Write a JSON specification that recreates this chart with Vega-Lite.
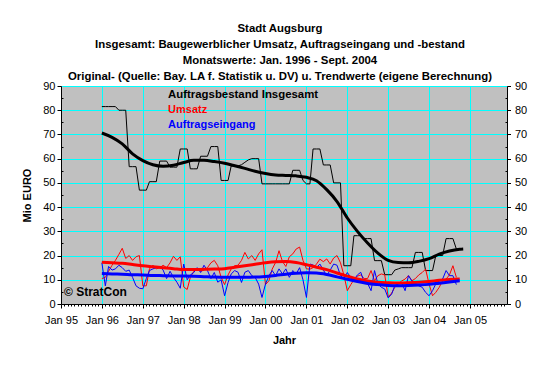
{
  "$schema": "https://vega.github.io/schema/vega-lite/v6.json",
  "width": 446,
  "height": 218,
  "autosize": {"type": "none"},
  "padding": {"left": 61, "top": 86, "right": 53, "bottom": 70},
  "background": "white",
  "title": {
    "text": ["Stadt Augsburg", "Insgesamt: Baugewerblicher Umsatz, Auftragseingang und -bestand", "Monatswerte: Jan. 1996 - Sept. 2004", "Original- (Quelle: Bay. LA f. Statistik u. DV) u. Trendwerte (eigene Berechnung)"],
    "font": "Liberation Sans", "fontSize": 11.4, "fontWeight": "bold", "color": "black",
    "lineHeight": 16, "anchor": "middle", "frame": "group", "dx": -4, "dy": 3.5, "offset": 1
  },
  "datasets": {
    "monthly": [
      {"d":"1996-01-01","bestand":81.5,"umsatz":10.5,"eingang":17},
      {"d":"1996-02-01","bestand":81.5,"umsatz":11,"eingang":7.5},
      {"d":"1996-03-01","bestand":81.5,"umsatz":13.5,"eingang":15.5},
      {"d":"1996-04-01","bestand":81.5,"umsatz":16,"eingang":14},
      {"d":"1996-05-01","bestand":81.5,"umsatz":18,"eingang":14.5},
      {"d":"1996-06-01","bestand":80,"umsatz":20.5,"eingang":16},
      {"d":"1996-07-01","bestand":80,"umsatz":23,"eingang":15},
      {"d":"1996-08-01","bestand":80,"umsatz":18.8,"eingang":13.5},
      {"d":"1996-09-01","bestand":56.7,"umsatz":20,"eingang":14},
      {"d":"1996-10-01","bestand":56.7,"umsatz":18,"eingang":11},
      {"d":"1996-11-01","bestand":56.7,"umsatz":19.5,"eingang":7.5},
      {"d":"1996-12-01","bestand":47,"umsatz":20,"eingang":6.5},
      {"d":"1997-01-01","bestand":47,"umsatz":7.5,"eingang":6.3},
      {"d":"1997-02-01","bestand":47,"umsatz":7.5,"eingang":10.5},
      {"d":"1997-03-01","bestand":50.5,"umsatz":14.5,"eingang":13.8},
      {"d":"1997-04-01","bestand":50.5,"umsatz":16,"eingang":14.5},
      {"d":"1997-05-01","bestand":50.5,"umsatz":14.5,"eingang":15},
      {"d":"1997-06-01","bestand":59,"umsatz":15,"eingang":15.5},
      {"d":"1997-07-01","bestand":59,"umsatz":16,"eingang":14},
      {"d":"1997-08-01","bestand":59,"umsatz":15,"eingang":10.5},
      {"d":"1997-09-01","bestand":56.5,"umsatz":17,"eingang":13.5},
      {"d":"1997-10-01","bestand":56.5,"umsatz":19.7,"eingang":11},
      {"d":"1997-11-01","bestand":56.5,"umsatz":18,"eingang":9},
      {"d":"1997-12-01","bestand":64,"umsatz":19.5,"eingang":6.5},
      {"d":"1998-01-01","bestand":64,"umsatz":7,"eingang":16.5},
      {"d":"1998-02-01","bestand":64,"umsatz":6,"eingang":10},
      {"d":"1998-03-01","bestand":55.8,"umsatz":11,"eingang":12},
      {"d":"1998-04-01","bestand":55.8,"umsatz":13.5,"eingang":13},
      {"d":"1998-05-01","bestand":55.8,"umsatz":14.5,"eingang":15},
      {"d":"1998-06-01","bestand":61,"umsatz":13.5,"eingang":13},
      {"d":"1998-07-01","bestand":61,"umsatz":14,"eingang":16},
      {"d":"1998-08-01","bestand":61,"umsatz":15,"eingang":13.8},
      {"d":"1998-09-01","bestand":65,"umsatz":17,"eingang":10.5},
      {"d":"1998-10-01","bestand":65,"umsatz":18,"eingang":13},
      {"d":"1998-11-01","bestand":65,"umsatz":15.8,"eingang":9},
      {"d":"1998-12-01","bestand":51,"umsatz":11,"eingang":10},
      {"d":"1999-01-01","bestand":51,"umsatz":8,"eingang":3.4},
      {"d":"1999-02-01","bestand":51,"umsatz":12,"eingang":8.9},
      {"d":"1999-03-01","bestand":57,"umsatz":14.5,"eingang":12.4},
      {"d":"1999-04-01","bestand":57,"umsatz":15.8,"eingang":13.8},
      {"d":"1999-05-01","bestand":57,"umsatz":16,"eingang":13.1},
      {"d":"1999-06-01","bestand":57.5,"umsatz":18,"eingang":8.9},
      {"d":"1999-07-01","bestand":58.5,"umsatz":21.3,"eingang":13.1},
      {"d":"1999-08-01","bestand":59.5,"umsatz":18.6,"eingang":13.8},
      {"d":"1999-09-01","bestand":60,"umsatz":20,"eingang":11.7},
      {"d":"1999-10-01","bestand":60,"umsatz":18,"eingang":11},
      {"d":"1999-11-01","bestand":60,"umsatz":20.7,"eingang":8.2},
      {"d":"1999-12-01","bestand":49.6,"umsatz":22.4,"eingang":2.7},
      {"d":"2000-01-01","bestand":49.6,"umsatz":8,"eingang":8.2},
      {"d":"2000-02-01","bestand":49.6,"umsatz":9.6,"eingang":11.7},
      {"d":"2000-03-01","bestand":49.6,"umsatz":14.4,"eingang":13.8},
      {"d":"2000-04-01","bestand":49.6,"umsatz":17.2,"eingang":11.7},
      {"d":"2000-05-01","bestand":49.6,"umsatz":22,"eingang":14.5},
      {"d":"2000-06-01","bestand":49.6,"umsatz":17.5,"eingang":12.4},
      {"d":"2000-07-01","bestand":49.6,"umsatz":15.5,"eingang":14.5},
      {"d":"2000-08-01","bestand":49.6,"umsatz":19.5,"eingang":11},
      {"d":"2000-09-01","bestand":55.2,"umsatz":20.7,"eingang":13.8},
      {"d":"2000-10-01","bestand":55.2,"umsatz":22.7,"eingang":12.4},
      {"d":"2000-11-01","bestand":55.2,"umsatz":23.5,"eingang":15},
      {"d":"2000-12-01","bestand":51,"umsatz":18,"eingang":10},
      {"d":"2001-01-01","bestand":49.6,"umsatz":14.5,"eingang":2.7},
      {"d":"2001-02-01","bestand":49.6,"umsatz":14.4,"eingang":16.5},
      {"d":"2001-03-01","bestand":64,"umsatz":15,"eingang":16.1},
      {"d":"2001-04-01","bestand":64,"umsatz":16.5,"eingang":15},
      {"d":"2001-05-01","bestand":64,"umsatz":18.5,"eingang":16.5},
      {"d":"2001-06-01","bestand":57.4,"umsatz":17.5,"eingang":14},
      {"d":"2001-07-01","bestand":57.4,"umsatz":18.6,"eingang":11.7},
      {"d":"2001-08-01","bestand":57.4,"umsatz":16.5,"eingang":14},
      {"d":"2001-09-01","bestand":50,"umsatz":19,"eingang":16.5},
      {"d":"2001-10-01","bestand":50,"umsatz":20,"eingang":16},
      {"d":"2001-11-01","bestand":50,"umsatz":17,"eingang":11.7},
      {"d":"2001-12-01","bestand":15.8,"umsatz":12,"eingang":10.5},
      {"d":"2002-01-01","bestand":15.8,"umsatz":5.5,"eingang":13},
      {"d":"2002-02-01","bestand":15.8,"umsatz":8,"eingang":11},
      {"d":"2002-03-01","bestand":28.2,"umsatz":10,"eingang":10},
      {"d":"2002-04-01","bestand":28.2,"umsatz":11.5,"eingang":12},
      {"d":"2002-05-01","bestand":28.2,"umsatz":12,"eingang":13.1},
      {"d":"2002-06-01","bestand":27,"umsatz":10.5,"eingang":9},
      {"d":"2002-07-01","bestand":27,"umsatz":10.5,"eingang":8.5},
      {"d":"2002-08-01","bestand":27,"umsatz":13.8,"eingang":5.5},
      {"d":"2002-09-01","bestand":17.9,"umsatz":9.6,"eingang":13.8},
      {"d":"2002-10-01","bestand":17.9,"umsatz":11.7,"eingang":8.3},
      {"d":"2002-11-01","bestand":17.9,"umsatz":12.4,"eingang":6.9},
      {"d":"2002-12-01","bestand":12.1,"umsatz":12,"eingang":6.2},
      {"d":"2003-01-01","bestand":12.1,"umsatz":3,"eingang":2.5},
      {"d":"2003-02-01","bestand":12.1,"umsatz":4.5,"eingang":4.1},
      {"d":"2003-03-01","bestand":14,"umsatz":6.9,"eingang":7.6},
      {"d":"2003-04-01","bestand":14.5,"umsatz":8.3,"eingang":8.3},
      {"d":"2003-05-01","bestand":15,"umsatz":9.5,"eingang":8.8},
      {"d":"2003-06-01","bestand":15,"umsatz":10.3,"eingang":5.5},
      {"d":"2003-07-01","bestand":15,"umsatz":11.7,"eingang":11.7},
      {"d":"2003-08-01","bestand":15,"umsatz":9.6,"eingang":9.5},
      {"d":"2003-09-01","bestand":21.3,"umsatz":10.5,"eingang":8.5},
      {"d":"2003-10-01","bestand":21.3,"umsatz":12,"eingang":7.5},
      {"d":"2003-11-01","bestand":21.3,"umsatz":13,"eingang":6.9},
      {"d":"2003-12-01","bestand":13.8,"umsatz":14.4,"eingang":4.8},
      {"d":"2004-01-01","bestand":13.8,"umsatz":8.3,"eingang":3.4},
      {"d":"2004-02-01","bestand":13.8,"umsatz":3.4,"eingang":5.5},
      {"d":"2004-03-01","bestand":20,"umsatz":4.8,"eingang":8.3},
      {"d":"2004-04-01","bestand":20,"umsatz":6.9,"eingang":9.5},
      {"d":"2004-05-01","bestand":20,"umsatz":9.6,"eingang":10.3},
      {"d":"2004-06-01","bestand":27,"umsatz":10.3,"eingang":13.8},
      {"d":"2004-07-01","bestand":27,"umsatz":12,"eingang":11.7},
      {"d":"2004-08-01","bestand":27,"umsatz":15.8,"eingang":11.7},
      {"d":"2004-09-01","bestand":22.7,"umsatz":11,"eingang":8}
    ],
    "trend": [
      {"d":"1996-01-01","Auftragsbestand Insgesamt":70.6,"Umsatz":17.2,"Auftragseingang":12.6},
      {"d":"1996-04-01","Auftragsbestand Insgesamt":68.8,"Umsatz":17,"Auftragseingang":12.4},
      {"d":"1996-07-01","Auftragsbestand Insgesamt":66.1,"Umsatz":16.8,"Auftragseingang":12.3},
      {"d":"1996-10-01","Auftragsbestand Insgesamt":62,"Umsatz":16.3,"Auftragseingang":12.1},
      {"d":"1997-01-01","Auftragsbestand Insgesamt":59.2,"Umsatz":15.8,"Auftragseingang":12},
      {"d":"1997-04-01","Auftragsbestand Insgesamt":57.5,"Umsatz":15.4,"Auftragseingang":11.8},
      {"d":"1997-07-01","Auftragsbestand Insgesamt":56.9,"Umsatz":15,"Auftragseingang":11.7},
      {"d":"1997-10-01","Auftragsbestand Insgesamt":57.3,"Umsatz":14.6,"Auftragseingang":11.6},
      {"d":"1998-01-01","Auftragsbestand Insgesamt":58.4,"Umsatz":14.2,"Auftragseingang":11.6},
      {"d":"1998-04-01","Auftragsbestand Insgesamt":59.3,"Umsatz":14.2,"Auftragseingang":11.5},
      {"d":"1998-07-01","Auftragsbestand Insgesamt":59.3,"Umsatz":14.3,"Auftragseingang":11.3},
      {"d":"1998-10-01","Auftragsbestand Insgesamt":58.8,"Umsatz":14.4,"Auftragseingang":11.1},
      {"d":"1999-01-01","Auftragsbestand Insgesamt":58.1,"Umsatz":14.6,"Auftragseingang":11},
      {"d":"1999-04-01","Auftragsbestand Insgesamt":57.1,"Umsatz":15.2,"Auftragseingang":11},
      {"d":"1999-07-01","Auftragsbestand Insgesamt":56,"Umsatz":15.8,"Auftragseingang":11},
      {"d":"1999-10-01","Auftragsbestand Insgesamt":54.8,"Umsatz":16.4,"Auftragseingang":11.1},
      {"d":"2000-01-01","Auftragsbestand Insgesamt":53.9,"Umsatz":17,"Auftragseingang":11.4},
      {"d":"2000-04-01","Auftragsbestand Insgesamt":53.3,"Umsatz":17.4,"Auftragseingang":11.8},
      {"d":"2000-07-01","Auftragsbestand Insgesamt":53.1,"Umsatz":17.5,"Auftragseingang":12.3},
      {"d":"2000-10-01","Auftragsbestand Insgesamt":52.9,"Umsatz":17.1,"Auftragseingang":12.7},
      {"d":"2001-01-01","Auftragsbestand Insgesamt":52.3,"Umsatz":16.2,"Auftragseingang":12.9},
      {"d":"2001-04-01","Auftragsbestand Insgesamt":50.9,"Umsatz":15.2,"Auftragseingang":12.8},
      {"d":"2001-07-01","Auftragsbestand Insgesamt":47.2,"Umsatz":14.2,"Auftragseingang":12.2},
      {"d":"2001-10-01","Auftragsbestand Insgesamt":42.3,"Umsatz":12.8,"Auftragseingang":11.2},
      {"d":"2002-01-01","Auftragsbestand Insgesamt":35.5,"Umsatz":11.5,"Auftragseingang":10.2},
      {"d":"2002-04-01","Auftragsbestand Insgesamt":30,"Umsatz":10.3,"Auftragseingang":9.3},
      {"d":"2002-07-01","Auftragsbestand Insgesamt":25.2,"Umsatz":9.5,"Auftragseingang":8.5},
      {"d":"2002-10-01","Auftragsbestand Insgesamt":21,"Umsatz":9,"Auftragseingang":8},
      {"d":"2003-01-01","Auftragsbestand Insgesamt":18,"Umsatz":8.8,"Auftragseingang":7.6},
      {"d":"2003-04-01","Auftragsbestand Insgesamt":17.1,"Umsatz":8.7,"Auftragseingang":7.5},
      {"d":"2003-07-01","Auftragsbestand Insgesamt":17,"Umsatz":8.8,"Auftragseingang":7.6},
      {"d":"2003-10-01","Auftragsbestand Insgesamt":17.6,"Umsatz":9,"Auftragseingang":7.8},
      {"d":"2004-01-01","Auftragsbestand Insgesamt":18.7,"Umsatz":9.3,"Auftragseingang":8.1},
      {"d":"2004-04-01","Auftragsbestand Insgesamt":20.6,"Umsatz":9.8,"Auftragseingang":8.6},
      {"d":"2004-07-01","Auftragsbestand Insgesamt":21.9,"Umsatz":10.1,"Auftragseingang":9.1},
      {"d":"2004-10-01","Auftragsbestand Insgesamt":22.6,"Umsatz":10.3,"Auftragseingang":9.6},
      {"d":"2004-11-01","Auftragsbestand Insgesamt":22.7}
    ]
  },
  "layer": [
    {
      "data": {"name": "monthly"},
      "mark": {"type": "line", "color": "#000000", "strokeWidth": 1},
      "encoding": {
        "x": {"field": "d", "type": "temporal",
          "scale": {"type": "utc", "domain": [{"year": 1995, "month": 1, "date": 1, "utc": true}, {"year": 2005, "month": 11, "date": 27, "utc": true}]},
          "axis": {"orient": "bottom", "tickCount": {"interval": "year", "step": 1}, "labelExpr": "utcFormat(datum.value, '%b %y')",
            "tickSize": 4, "labelPadding": 6, "labelFlush": false, "labelOverlap": false, "labelBound": false,
            "grid": true, "gridColor": "#00FFFF", "gridOpacity": 1, "gridWidth": 1,
            "title": "Jahr", "titlePadding": 9}},
        "y": {"field": "bestand", "type": "quantitative",
          "scale": {"domain": [0, 90], "nice": false},
          "axis": {"orient": "left", "values": [0,10,20,30,40,50,60,70,80,90], "tickSize": 4, "labelPadding": 2,
            "grid": true, "gridColor": "#00FFFF", "gridOpacity": 1, "gridWidth": 1,
            "title": "Mio EURO", "titlePadding": 10}}
      }
    },
    {
      "data": {"name": "monthly"},
      "mark": {"type": "line", "color": "#FF0000", "strokeWidth": 1},
      "encoding": {
        "x": {"field": "d", "type": "temporal", "axis": null},
        "y": {"field": "umsatz", "type": "quantitative",
          "axis": {"orient": "left", "values": [5,15,25,35,45,55,65,75,85], "labels": false, "tickSize": -2, "grid": false, "domain": false, "title": null}}
      }
    },
    {
      "data": {"name": "monthly"},
      "mark": {"type": "line", "color": "#0000FF", "strokeWidth": 1},
      "encoding": {
        "x": {"field": "d", "type": "temporal", "axis": null},
        "y": {"field": "eingang", "type": "quantitative", "axis": null}
      }
    },
    {
      "data": {"name": "trend"},
      "transform": [{"fold": ["Auftragsbestand Insgesamt", "Umsatz", "Auftragseingang"], "as": ["series", "value"]}],
      "mark": {"type": "line", "strokeWidth": 3, "interpolate": "monotone"},
      "encoding": {
        "x": {"field": "d", "type": "temporal",
          "axis": {"orient": "bottom", "tickCount": {"interval": "month", "step": 1}, "labels": false, "tickSize": 2, "grid": false, "domain": false, "title": null}},
        "y": {"field": "value", "type": "quantitative",
          "axis": {"orient": "right", "values": [0,10,20,30,40,50,60,70,80,90], "tickSize": 3.5, "labelPadding": 4, "grid": false, "title": null}},
        "color": {"field": "series", "type": "nominal",
          "scale": {"domain": ["Auftragsbestand Insgesamt", "Umsatz", "Auftragseingang"], "range": ["#000000", "#FF0000", "#0000FF"]},
          "legend": null}
      }
    },
    {
      "data": {"values": [{}]},
      "mark": {"type": "text", "text": "© StratCon", "align": "left", "baseline": "middle", "dx": 3, "font": "Liberation Sans", "fontSize": 12, "fontWeight": "bold", "color": "#000000"},
      "encoding": {
        "x": {"datum": {"year": 1995, "month": 1, "date": 1, "utc": true}, "type": "temporal", "axis": null},
        "y": {"datum": 5, "type": "quantitative",
          "axis": {"orient": "right", "values": [5,15,25,35,45,55,65,75,85], "labels": false, "tickSize": -2, "grid": false, "domain": false, "title": null}}
      }
    },
    {
      "data": {"values": [{}]},
      "mark": {"type": "text", "text": "Auftragsbestand Insgesamt", "align": "left", "baseline": "middle", "font": "Liberation Sans", "fontSize": 11.4, "fontWeight": "bold", "color": "#000000"},
      "encoding": {
        "x": {"datum": {"year": 1997, "month": 8, "date": 14, "utc": true}, "type": "temporal", "axis": null},
        "y": {"datum": 86.3, "type": "quantitative", "axis": null}
      }
    },
    {
      "data": {"values": [{}]},
      "mark": {"type": "text", "text": "Umsatz", "align": "left", "baseline": "middle", "font": "Liberation Sans", "fontSize": 11, "fontWeight": "bold", "color": "#FF0000"},
      "encoding": {
        "x": {"datum": {"year": 1997, "month": 8, "date": 14, "utc": true}, "type": "temporal", "axis": null},
        "y": {"datum": 80.1, "type": "quantitative", "axis": null}
      }
    },
    {
      "data": {"values": [{}]},
      "mark": {"type": "text", "text": "Auftragseingang", "align": "left", "baseline": "middle", "font": "Liberation Sans", "fontSize": 11, "fontWeight": "bold", "color": "#0000FF"},
      "encoding": {
        "x": {"datum": {"year": 1997, "month": 8, "date": 14, "utc": true}, "type": "temporal", "axis": null},
        "y": {"datum": 73.9, "type": "quantitative", "axis": null}
      }
    }
  ],
  "resolve": {"axis": {"x": "independent", "y": "independent"}},
  "config": {
    "view": {"fill": "#C0C0C0", "stroke": "#808080", "strokeWidth": 1},
    "font": "Liberation Sans",
    "axis": {"labelColor": "#000000", "tickColor": "#000000", "domainColor": "#000000", "labelFont": "Liberation Sans", "labelFontSize": 11,
      "titleFont": "Liberation Sans", "titleFontSize": 11, "titleFontWeight": "bold", "titleColor": "#000000"}
  }
}
